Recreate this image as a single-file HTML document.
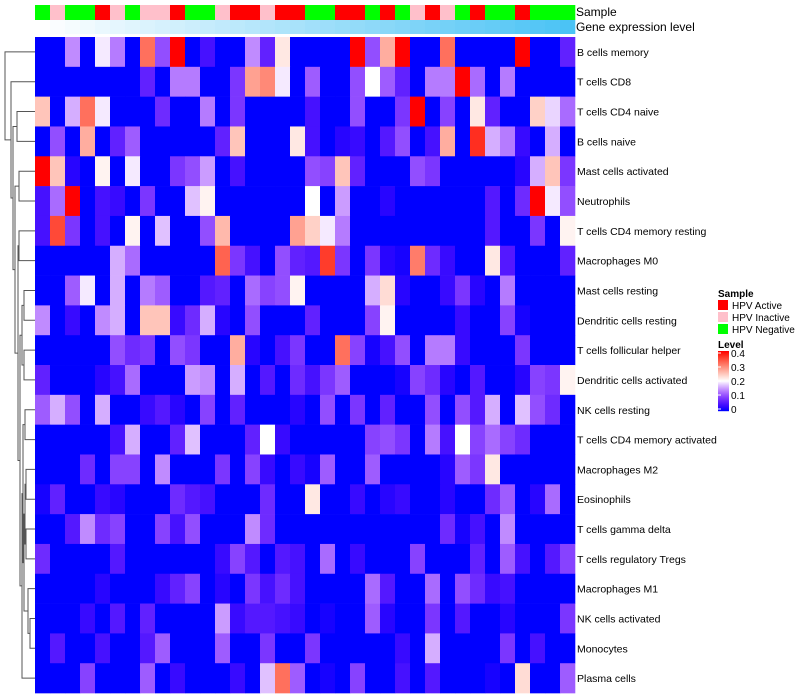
<!DOCTYPE html>
<html><head><meta charset="utf-8"><style>
body{margin:0;background:#fff;}
svg{display:block;font-family:"Liberation Sans",sans-serif;}
</style></head><body>
<svg id="chart" width="800" height="700"></svg>
<script>
const rowLabels=["B cells memory","T cells CD8","T cells CD4 naive","B cells naive","Mast cells activated","Neutrophils","T cells CD4 memory resting","Macrophages M0","Mast cells resting","Dendritic cells resting","T cells follicular helper","Dendritic cells activated","NK cells resting","T cells CD4 memory activated","Macrophages M2","Eosinophils","T cells gamma delta","T cells regulatory  Tregs","Macrophages M1","NK cells activated","Monocytes","Plasma cells"];
const sampleGroups="GPGGRPGPPRGGPRRPRRGGRRGRGPRPGRGGRGGG".split("");
const r00=[0,0,.14,0,.19,.13,0,.32,.1,.4,0,.04,0,0,.14,.06,.22,0,0,0,0,.4,.1,.27,.4,0,0,.32,0,0,0,0,.4,0,0,.06];
const r01=[0,0,0,0,0,0,0,.06,0,.13,.13,0,0,.08,.28,.3,.19,0,.11,0,0,.1,.2,.11,.06,0,.13,.13,.4,.12,0,.13,0,0,0,0];
const r02=[.25,0,.16,.32,.19,0,0,0,.07,0,0,.13,0,.08,0,0,0,0,.04,0,0,.1,0,0,.08,.4,0,.09,0,.22,.06,0,0,.24,.18,.12];
const r03=[0,.1,0,.27,0,.06,.11,0,0,0,0,0,.06,.25,0,0,0,.22,.04,0,.02,.03,0,.05,.1,0,.04,.27,0,.37,.16,.13,.03,0,.16,0];
const r04=[.4,.25,.02,0,.21,0,.19,0,0,.08,.1,.15,0,.04,0,0,0,0,.1,.09,.25,.06,0,0,0,.1,.08,0,0,0,0,0,.02,.16,.25,.08];
const r05=[.04,.12,.4,0,.04,.03,0,.08,0,0,.17,.21,0,0,0,0,0,0,.2,0,.15,0,0,.02,0,0,0,0,0,0,.05,0,.07,.4,.19,.1];
const r06=[.04,.35,.08,0,.04,0,.21,0,.17,0,0,.1,.26,0,0,0,0,.28,.24,.19,.13,0,0,0,0,0,0,0,0,0,.05,0,0,.08,0,.21];
const r07=[0,0,0,0,0,.16,.12,0,0,0,0,0,.33,.08,.04,0,.1,.06,.05,.36,.08,0,.08,.02,.01,.31,.07,.03,0,0,.22,.05,0,0,0,.06];
const r08=[0,0,.11,.19,0,.16,0,.13,.11,0,0,.05,.06,0,.12,.09,.1,.21,0,0,0,0,.16,.23,.02,0,0,.03,.08,.02,0,.13,0,0,0,0];
const r09=[.14,0,.03,0,.14,.16,0,.25,.25,.03,.07,.16,.02,0,.1,0,0,0,.06,0,0,0,.09,.21,0,0,0,0,.03,0,0,.09,.01,0,0,0];
const r10=[0,0,0,0,0,.1,.07,.08,0,.1,.08,0,0,.27,.02,0,.04,.08,0,0,.32,.09,.01,.04,.1,0,.13,.13,.03,0,0,0,.08,0,0,0];
const r11=[.06,0,0,0,.02,.04,.12,0,0,0,.15,.14,0,.16,0,.05,0,.07,.04,.08,.11,0,0,0,.01,.09,.07,.02,0,.05,0,0,.02,.09,.08,.21];
const r12=[.11,.16,.1,0,.16,0,0,.03,.05,.02,0,.09,0,.06,0,0,0,.02,0,.1,0,.08,0,.06,0,0,.1,0,.1,.05,.16,0,.17,.1,.07,0];
const r13=[0,0,0,0,0,.04,.16,0,0,.06,.17,0,0,0,.06,.2,.03,0,0,0,0,0,.09,.1,.08,0,.13,.04,.2,.09,.12,.09,.07,0,0,0];
const r14=[0,0,0,.07,0,.09,.09,0,.14,0,0,0,.08,0,.09,.03,0,.03,.01,.11,0,0,.11,0,0,0,0,.02,.11,.08,.22,0,0,0,0,0];
const r15=[.01,.06,0,0,.03,.02,0,0,0,.07,.05,.04,0,0,0,.07,0,0,.22,0,0,.03,0,.02,.03,0,0,.02,0,0,.07,.11,0,.02,.12,0];
const r16=[0,0,.05,.14,.07,.09,0,0,.09,.04,.1,0,0,0,.14,.07,0,0,0,0,0,0,0,0,0,0,0,.07,.01,.04,0,.14,0,0,0,0];
const r17=[.07,0,0,0,0,.05,0,0,0,0,0,0,.03,.09,.05,0,.05,.04,0,.12,0,.03,0,0,0,.09,0,0,0,.06,0,.11,.04,0,.05,.09];
const r18=[0,0,0,0,.02,0,0,0,.03,.06,.09,0,.02,0,.08,.04,.07,.04,0,0,0,0,.12,.05,0,0,.12,0,.1,.07,.03,.04,0,0,0,0];
const r19=[0,0,0,.03,0,.05,0,.06,0,0,0,0,.15,.03,.05,.05,.04,.03,0,.01,0,0,.11,.02,0,0,.08,0,.05,0,0,.02,0,0,0,.08];
const r20=[0,.05,0,0,.04,0,0,.05,.11,0,0,0,.11,0,0,.08,0,0,.08,0,0,0,0,0,.03,0,.16,0,0,0,0,.08,0,.04,0,0];
const r21=[0,0,0,.09,0,0,0,.11,0,.03,0,0,0,.03,0,.17,.32,.11,0,.01,0,.09,0,0,.04,0,.05,0,0,0,.01,0,.23,0,0,.11];
const values=[r00,r01,r02,r03,r04,r05,r06,r07,r08,r09,r10,r11,r12,r13,r14,r15,r16,r17,r18,r19,r20,r21];
const legendTicks=[0,0.1,0.2,0.3,0.4];
const groupNames=["HPV Active","HPV Inactive","HPV Negative"];

const NS="http://www.w3.org/2000/svg";
const svg=document.getElementById("chart");
const X0=35,Y0=37,CW=15,RH=29.82,NC=36;
const xS=c=>X0+c*CW, yS=r=>Y0+r*RH;
function col(v){
  let t=Math.max(0,Math.min(0.4,v));
  if(t<=0.2){const s=t/0.2;return `rgb(${Math.round(255*Math.pow(s,0.8))},${Math.round(255*Math.pow(s,1.7))},255)`;}
  const s=(t-0.2)/0.2;return `rgb(255,${Math.round(255*Math.pow(1-s,0.9))},${Math.round(255*Math.pow(1-s,1.1))})`;
}
function el(tag,attrs){const e=document.createElementNS(NS,tag);for(const k in attrs)e.setAttribute(k,attrs[k]);svg.appendChild(e);return e;}
const gc={R:"#ff0000",P:"#ffc0cb",G:"#00ff00"};
sampleGroups.forEach((g,c)=>{
  const e=el("rect",{x:xS(c),y:5,width:CW+0.3,height:15,fill:gc[g]});
  
  
  const s=c/(NC-1);
  const e2=el("rect",{x:xS(c),y:20,width:CW+0.3,height:14,fill:`rgb(${Math.round(255-180*s)},${Math.round(255-60*s)},${Math.round(255-10*s)})`});
  
  
});
values.forEach((row,r)=>{
  row.forEach((v,c)=>{
    const e=el("rect",{x:xS(c),y:yS(r),width:CW+0.3,height:RH+0.3,fill:col(v)});
    
    
  });
  const t=el("text",{x:577,y:yS(r)+RH/2+4,"font-size":"10.5",fill:"#000"});
  t.textContent=rowLabels[r];
  
  
});
[["Sample",16],["Gene expression level",31]].forEach(([s,y])=>{
  const t=el("text",{x:576,y:y,"font-size":"12",fill:"#000"});t.textContent=s;
  
  
});
// dendrogram
const leafY=r=>yS(r)+RH/2;
const tree=["Z",5,["L",0],["Y",11,["L",1],["X",13,["C",17,["L",2],["L",3]],["W",15,["E",19,["L",4],["L",5]],["V",18,["G",19,["L",6],["L",7]],["U",20,["J",22,["H",24,["L",8],["L",9]],["I",24,["L",10],["L",11]]],["T",22,["S",23,["L2",25,["L",12],["L",13]],["R",24,["O",25,["M",26,["L",14],["L",15]],["N",26,["L",16],["L",17]]],["Q",28,["L",18],["P",30,["L",19],["L",20]]]]],["L",21]]]]]]]];
function draw(n){
  if(n[0]==="L")return {x:35,y:leafY(n[1])};
  const a=draw(n[2]),b=draw(n[3]),x=n[1];
  const p=el("path",{d:`M${a.x},${a.y}H${x}V${b.y}H${b.x}`,fill:"none",stroke:"#555","stroke-width":1});
  
  
  return {x:x,y:(a.y+b.y)/2};
}
draw(tree);
// legends
let t=el("text",{x:718,y:297,"font-size":"10","font-weight":"bold"});t.textContent="Sample";

groupNames.forEach((g,i)=>{
  const r=el("rect",{x:718,y:300+i*12,width:10,height:10,fill:["#ff0000","#ffc0cb","#00ff00"][i]});
  
  const tx=el("text",{x:732,y:309+i*12,"font-size":"10"});tx.textContent=g;
  
});
t=el("text",{x:718,y:348,"font-size":"10","font-weight":"bold"});t.textContent="Level";

const cbTop=351,cbH=60;
for(let i=0;i<60;i++){
  const r=el("rect",{x:718,y:cbTop+i,width:11,height:1.2,fill:col(0.4*(1-i/59))});
  
}
legendTicks.forEach(v=>{
  const y=cbTop+cbH-1-(v/0.4)*(cbH-4)-1;
  const tx=el("text",{x:731,y:y+4,"font-size":"10"});tx.textContent=String(v);
  
  const l=el("line",{x1:718,x2:721,y1:y,y2:y,stroke:"#fff"});
  
});
</script>
</body></html>
